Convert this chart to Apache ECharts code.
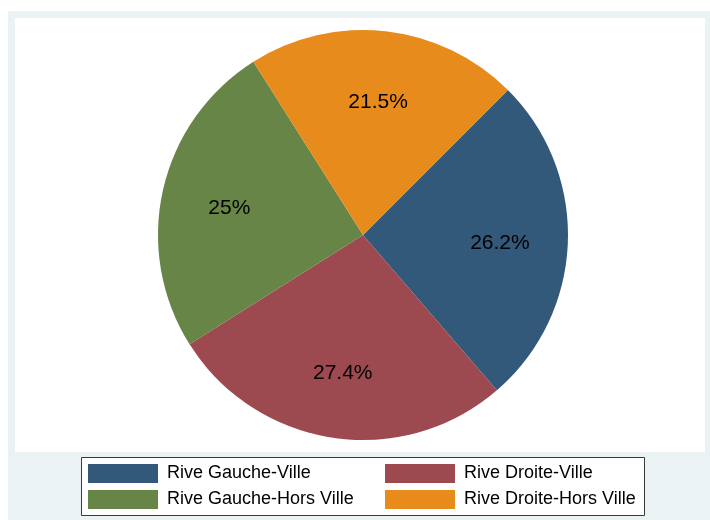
<!DOCTYPE html>
<html>
<head>
<meta charset="utf-8">
<script src="https://cdn.jsdelivr.net/npm/echarts@6/dist/echarts.min.js"></script>
<style>
  html, body { margin: 0; padding: 0; background: #ffffff; }
  #chart { width: 710px; height: 520px; }
</style>
</head>
<body>
<div id="chart"></div>
<script>
// Zones and their shares (percent)
const categories = ['Rive Gauche-Ville', 'Rive Droite-Ville', 'Rive Gauche-Hors Ville', 'Rive Droite-Hors Ville'];
const shares = [26.2, 27.4, 25, 21.5];
const sliceColors = ['#32587A', '#9C4A50', '#668546', '#E88B1D'];

const leftColumn = [categories[0], categories[2]];
const rightColumn = [categories[1], categories[3]];

const pieData = categories.map((name, i) => ({
  name: name,
  value: shares[i],
  itemStyle: { color: sliceColors[i] }
}));

const labelData = categories.map((name, i) => ({
  name: name,
  value: shares[i]
}));

const FONT = 'Liberation Sans, Arial, Helvetica, sans-serif';

const legendCommon = {
  orient: 'vertical',
  top: 464,
  padding: 0,
  icon: 'rect',
  itemWidth: 70,
  itemHeight: 19,
  itemGap: 7,
  selectedMode: false,
  textStyle: { fontFamily: FONT, fontSize: 18, color: '#000', padding: [2, 0, 0, 4] }
};

const chart = echarts.init(document.getElementById('chart'), null, { renderer: 'canvas' });

chart.setOption({
  backgroundColor: '#ffffff',
  animation: false,
  graphic: [
    { type: 'rect', z: -10, shape: { x: 8, y: 11, width: 702, height: 509 }, style: { fill: '#EAF2F3' } },
    { type: 'rect', z: -9, shape: { x: 15, y: 18, width: 690, height: 434 }, style: { fill: '#ffffff' } },
    { type: 'rect', z: -8, shape: { x: 81.5, y: 457.5, width: 563, height: 58 }, style: { fill: '#ffffff', stroke: '#3a3a3a', lineWidth: 1 } }
  ],
  legend: [
    Object.assign({ left: 88, data: leftColumn }, legendCommon),
    Object.assign({ left: 385, data: rightColumn }, legendCommon)
  ],
  series: [
    {
      type: 'pie',
      center: [363, 235],
      radius: [0, 205],
      startAngle: 45,
      clockwise: true,
      avoidLabelOverlap: false,
      silent: true,
      label: { show: false },
      labelLine: { show: false },
      itemStyle: { borderWidth: 0 },
      data: pieData
    },
    {
      // transparent ring carrying the percentage labels at about two thirds of the radius
      type: 'pie',
      center: [363, 235],
      radius: [63, 205],
      startAngle: 45,
      clockwise: true,
      avoidLabelOverlap: false,
      silent: true,
      itemStyle: { color: 'rgba(0,0,0,0)', borderWidth: 0 },
      label: {
        show: true,
        position: 'inside',
        formatter: '{c}%',
        fontFamily: FONT,
        fontSize: 21,
        color: '#000',
        offset: [0, 3]
      },
      labelLine: { show: false },
      data: labelData
    }
  ]
});
</script>
</body>
</html>
